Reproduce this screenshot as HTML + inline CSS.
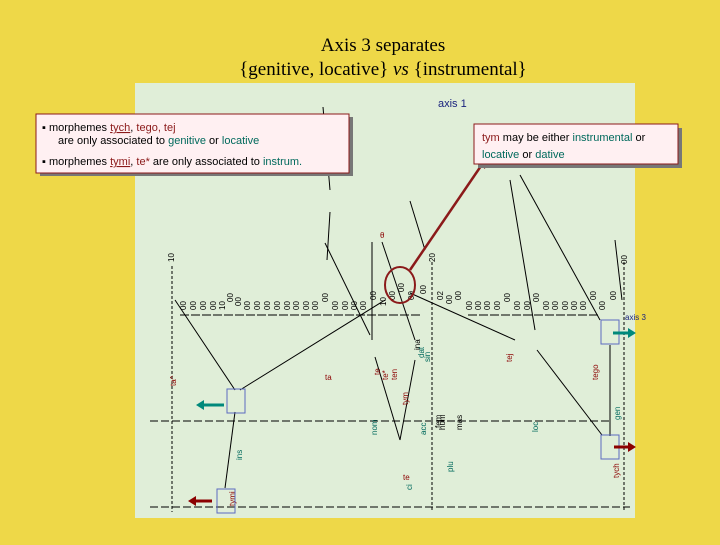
<!DOCTYPE html>
<html><head><style>
body{margin:0;width:720px;height:540px;background:#EED848;overflow:hidden;font-family:"Liberation Sans",sans-serif}
</style></head><body>
<svg width="720" height="540" xmlns="http://www.w3.org/2000/svg" font-family="Liberation Sans, sans-serif">
<rect width="720" height="540" fill="#EED848"/>
<text x="383" y="51" text-anchor="middle" font-family="Liberation Serif, serif" font-size="19" fill="#000">Axis 3 separates</text>
<text x="383" y="75" text-anchor="middle" font-family="Liberation Serif, serif" font-size="19" fill="#000">{genitive, locative} <tspan font-style="italic">vs</tspan> {instrumental}</text>
<rect x="135" y="83" width="500" height="435" fill="#E0EED8"/>
<text x="438" y="107" font-size="11" fill="#1a237e">axis 1</text>
<g stroke="#000" stroke-width="1" fill="none">
<line x1="323" y1="107" x2="330" y2="190"/><line x1="330" y1="212" x2="327" y2="260"/>
<line x1="410" y1="201" x2="425" y2="250"/>
<line x1="510" y1="180" x2="535" y2="330"/><line x1="520" y1="175" x2="600" y2="320"/>
<line x1="615" y1="240" x2="622" y2="300"/>
<line x1="175" y1="300" x2="235" y2="390"/>
<line x1="240" y1="390" x2="385" y2="300"/>
<line x1="325" y1="243" x2="370" y2="335"/>
<line x1="372" y1="242" x2="372" y2="340"/>
<line x1="382" y1="242" x2="415" y2="340"/>
<line x1="410" y1="293" x2="515" y2="340"/>
<line x1="375" y1="357" x2="400" y2="440"/><line x1="400" y1="440" x2="415" y2="360"/>
<line x1="537" y1="350" x2="602" y2="435"/>
<line x1="235" y1="412" x2="225" y2="488"/>
<line x1="610" y1="345" x2="610" y2="436"/>
</g>
<g stroke="#000" stroke-dasharray="3,2" fill="none">
<line x1="172" y1="266" x2="172" y2="512"/>
<line x1="432" y1="262" x2="432" y2="512"/>
<line x1="624" y1="262" x2="624" y2="512"/>
<line x1="150" y1="421" x2="610" y2="421" stroke-dasharray="8,3"/>
<line x1="150" y1="507" x2="630" y2="507" stroke-dasharray="8,3"/>
<line x1="180" y1="315" x2="420" y2="315" stroke-dasharray="9,2"/>
<line x1="468" y1="315" x2="600" y2="315" stroke-dasharray="9,2"/>
</g>
<g font-size="8" fill="#000">
<text transform="translate(174,262) rotate(-90)">10</text>
<text transform="translate(435,262) rotate(-90)">20</text>
<text transform="translate(627,264) rotate(-90)">00</text>
<text transform="translate(420,350) rotate(-90)">ina</text>
<text transform="translate(186,310) rotate(-90)">00</text>
<text transform="translate(196,310) rotate(-90)">00</text>
<text transform="translate(206,310) rotate(-90)">00</text>
<text transform="translate(216,310) rotate(-90)">00</text>
<text transform="translate(225,310) rotate(-90)">10</text>
<text transform="translate(233,302) rotate(-90)">00</text>
<text transform="translate(241,306) rotate(-90)">00</text>
<text transform="translate(250,310) rotate(-90)">00</text>
<text transform="translate(260,310) rotate(-90)">00</text>
<text transform="translate(270,310) rotate(-90)">00</text>
<text transform="translate(280,310) rotate(-90)">00</text>
<text transform="translate(290,310) rotate(-90)">00</text>
<text transform="translate(299,310) rotate(-90)">00</text>
<text transform="translate(309,310) rotate(-90)">00</text>
<text transform="translate(318,310) rotate(-90)">00</text>
<text transform="translate(328,302) rotate(-90)">00</text>
<text transform="translate(338,310) rotate(-90)">00</text>
<text transform="translate(348,310) rotate(-90)">00</text>
<text transform="translate(357,310) rotate(-90)">00</text>
<text transform="translate(366,310) rotate(-90)">00</text>
<text transform="translate(376,300) rotate(-90)">00</text>
<text transform="translate(386,306) rotate(-90)">10</text>
<text transform="translate(395,300) rotate(-90)">00</text>
<text transform="translate(404,292) rotate(-90)">00</text>
<text transform="translate(414,300) rotate(-90)">00</text>
<text transform="translate(426,294) rotate(-90)">00</text>
<text transform="translate(443,300) rotate(-90)">02</text>
<text transform="translate(452,304) rotate(-90)">00</text>
<text transform="translate(461,300) rotate(-90)">00</text>
<text transform="translate(472,310) rotate(-90)">00</text>
<text transform="translate(481,310) rotate(-90)">00</text>
<text transform="translate(490,310) rotate(-90)">00</text>
<text transform="translate(500,310) rotate(-90)">00</text>
<text transform="translate(510,302) rotate(-90)">00</text>
<text transform="translate(520,310) rotate(-90)">00</text>
<text transform="translate(530,310) rotate(-90)">00</text>
<text transform="translate(539,302) rotate(-90)">00</text>
<text transform="translate(549,310) rotate(-90)">00</text>
<text transform="translate(558,310) rotate(-90)">00</text>
<text transform="translate(568,310) rotate(-90)">00</text>
<text transform="translate(577,310) rotate(-90)">00</text>
<text transform="translate(586,310) rotate(-90)">00</text>
<text transform="translate(596,300) rotate(-90)">00</text>
<text transform="translate(605,310) rotate(-90)">00</text>
<text transform="translate(616,300) rotate(-90)">00</text>
</g>
<g font-size="8" fill="#8B0000">
<text x="380" y="238">θ</text>
<text transform="translate(176,386) rotate(-90)">ta^</text>
<text x="325" y="380">ta</text>
<text transform="translate(380,375) rotate(-90)">te</text>
<text transform="translate(388,380) rotate(-90)">te*</text>
<text transform="translate(397,380) rotate(-90)">ten</text>
<text transform="translate(408,405) rotate(-90)">tym</text>
<text transform="translate(512,362) rotate(-90)">tej</text>
<text transform="translate(598,380) rotate(-90)">tego</text>
<text x="403" y="480">te</text>
<text transform="translate(235,506) rotate(-90)">tymi</text>
<text transform="translate(619,478) rotate(-90)">tych</text>
</g>
<g font-size="8" fill="#00695C">
<text transform="translate(424,358) rotate(-90)">dat</text>
<text transform="translate(430,362) rotate(-90)">sin</text>
<text transform="translate(377,435) rotate(-90)">nom</text>
<text transform="translate(426,435) rotate(-90)">acc</text>
<text transform="translate(242,460) rotate(-90)">ins</text>
<text transform="translate(453,472) rotate(-90)">plu</text>
<text transform="translate(538,432) rotate(-90)">loc</text>
<text transform="translate(620,420) rotate(-90)">gen</text>
<text transform="translate(412,490) rotate(-90)">ci</text>
<text x="625" y="320" fill="#1a237e">axis 3</text>
</g>
<g font-size="8" fill="#000">
<text transform="translate(441,428) rotate(-90)">fem</text>
<text transform="translate(445,430) rotate(-90)">hum</text>
<text transform="translate(462,430) rotate(-90)">mas</text>
</g>
<g fill="none" stroke="#5C6BC0">
<rect x="227" y="389" width="18" height="24"/>
<rect x="217" y="489" width="18" height="24"/>
<rect x="601" y="320" width="18" height="24"/>
<rect x="601" y="435" width="18" height="24"/>
</g>
<g stroke-width="3">
<line x1="202" y1="405" x2="224" y2="405" stroke="#00897B"/><polygon points="196,405 204,400 204,410" fill="#00897B"/>
<line x1="194" y1="501" x2="212" y2="501" stroke="#8B0000"/><polygon points="188,501 196,496 196,506" fill="#8B0000"/>
<line x1="613" y1="333" x2="630" y2="333" stroke="#00897B"/><polygon points="636,333 628,328 628,338" fill="#00897B"/>
<line x1="614" y1="447" x2="630" y2="447" stroke="#8B0000"/><polygon points="636,447 628,442 628,452" fill="#8B0000"/>
</g>
<ellipse cx="400" cy="285" rx="15" ry="18" fill="none" stroke="#8B1A1A" stroke-width="2"/>
<line x1="410" y1="270" x2="483" y2="163" stroke="#8B1A1A" stroke-width="2.5"/>
<polygon points="487,157 477,163 485,169" fill="#8B1A1A"/>
<rect x="40" y="117" width="313" height="59" fill="#777"/>
<rect x="36" y="114" width="313" height="59" fill="#FFF0F2" stroke="#8B1A1A"/>
<text x="42" y="131" font-size="11" fill="#000">▪ morphemes <tspan fill="#8B1A1A" text-decoration="underline">tych</tspan>, <tspan fill="#8B1A1A">tego, tej</tspan></text>
<text x="58" y="144" font-size="11" fill="#000">are only associated to <tspan fill="#00695C">genitive</tspan> or <tspan fill="#00695C">locative</tspan></text>
<text x="42" y="165" font-size="11" fill="#000">▪ morphemes <tspan fill="#8B1A1A" text-decoration="underline">tymi</tspan>, <tspan fill="#8B1A1A">te*</tspan> are only associated to  <tspan fill="#00695C">instrum.</tspan></text>
<rect x="478" y="128" width="204" height="40" fill="#777"/>
<rect x="474" y="124" width="204" height="40" fill="#FFF0F2" stroke="#8B1A1A"/>
<text x="482" y="141" font-size="11" fill="#000"><tspan fill="#8B1A1A">tym</tspan> may be either <tspan fill="#00695C">instrumental</tspan> or</text>
<text x="482" y="158" font-size="11" fill="#000"><tspan fill="#00695C">locative</tspan> or <tspan fill="#00695C">dative</tspan></text>
</svg>
</body></html>
